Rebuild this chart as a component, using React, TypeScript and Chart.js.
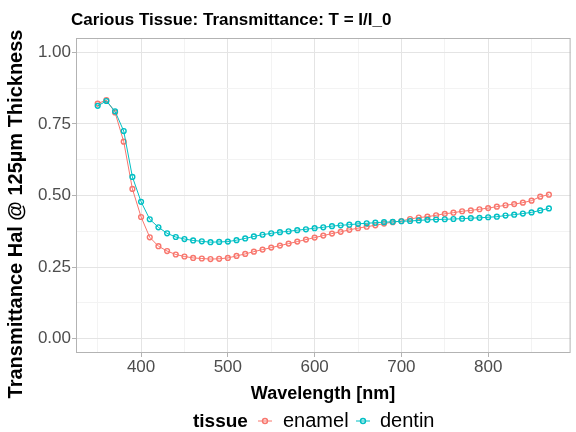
import React, { useEffect, useRef } from "react";
import { Chart, registerables } from "chart.js";

Chart.register(...registerables);

const wavelengths = [
  350, 360, 370, 380, 390, 400, 410, 420, 430, 440, 450, 460, 470, 480, 490, 500,
  510, 520, 530, 540, 550, 560, 570, 580, 590, 600, 610, 620, 630, 640, 650, 660,
  670, 680, 690, 700, 710, 720, 730, 740, 750, 760, 770, 780, 790, 800, 810, 820,
  830, 840, 850, 860, 870,
];

const enamel = [
  0.821, 0.833, 0.79, 0.688, 0.523, 0.425, 0.354, 0.323, 0.306, 0.294, 0.287, 0.282,
  0.28, 0.278, 0.279, 0.282, 0.289, 0.296, 0.304, 0.311, 0.318, 0.325, 0.332, 0.339,
  0.346, 0.353, 0.36, 0.367, 0.373, 0.38, 0.386, 0.391, 0.396, 0.402, 0.407, 0.411,
  0.418, 0.423, 0.426, 0.431, 0.436, 0.44, 0.445, 0.448, 0.452, 0.456, 0.461, 0.466,
  0.47, 0.475, 0.482, 0.496, 0.503,
];

const dentin = [
  0.813, 0.83, 0.794, 0.725, 0.565, 0.478, 0.417, 0.389, 0.368, 0.355, 0.348, 0.343,
  0.34, 0.337, 0.338, 0.339, 0.344, 0.35, 0.357, 0.363, 0.368, 0.372, 0.375, 0.379,
  0.382, 0.386, 0.389, 0.393, 0.396, 0.398, 0.401, 0.403, 0.405, 0.407, 0.408, 0.41,
  0.411, 0.413, 0.415, 0.416, 0.417, 0.418, 0.419, 0.421, 0.422, 0.424, 0.426, 0.43,
  0.433, 0.437, 0.441, 0.448, 0.455,
];

const xMajor = [400, 500, 600, 700, 800];
const xMinor = [350, 450, 550, 650, 750, 850];
const yMajor = [0, 0.25, 0.5, 0.75, 1];
const yMinor = [0.125, 0.375, 0.625, 0.875];

const seriesNames = ["enamel", "dentin"];
const seriesColors = ["#F8766D", "#00BFC4"];

const TITLE = "Carious Tissue: Transmittance: T = I/I_0";
const X_TITLE = "Wavelength [nm]";
const Y_TITLE = "Transmittance Hal @ 125\u00b5m Thickness";
const LEGEND_TITLE = "tissue";

const FONT = '"Liberation Sans", Arial, Helvetica, sans-serif';

const isMajor = (list: number[], v: number) => list.some((m) => Math.abs(m - v) < 1e-9);

const decorPlugin = {
  id: "decor",
  afterDraw(chart: any) {
    const { ctx, chartArea: a } = chart;
    ctx.save();
    // panel border
    ctx.strokeStyle = "#B3B3B3";
    ctx.lineWidth = 1;
    ctx.strokeRect(a.left + 0.5, a.top + 0.5, a.right - a.left - 1, a.bottom - a.top - 1);

    ctx.fillStyle = "#000000";
    // title
    ctx.font = `bold 17px ${FONT}`;
    ctx.textAlign = "left";
    ctx.textBaseline = "alphabetic";
    ctx.fillText(TITLE, 71, 25);

    // x title
    ctx.font = `bold 18px ${FONT}`;
    ctx.textAlign = "center";
    ctx.fillText(X_TITLE, 323, 399);

    // y title
    ctx.save();
    ctx.translate(22, 214);
    ctx.rotate(-Math.PI / 2);
    ctx.font = `bold 20px ${FONT}`;
    ctx.textAlign = "center";
    ctx.fillText(Y_TITLE, 0, 0);
    ctx.restore();

    // legend
    ctx.textAlign = "left";
    ctx.font = `bold 19px ${FONT}`;
    ctx.fillText(LEGEND_TITLE, 193, 427);
    const symX = [265, 363];
    const labX = [283, 380];
    for (let i = 0; i < seriesNames.length; i++) {
      const cx = symX[i];
      const cy = 421;
      ctx.strokeStyle = seriesColors[i];
      ctx.lineWidth = 1;
      ctx.beginPath();
      ctx.moveTo(cx - 7, cy);
      ctx.lineTo(cx + 7, cy);
      ctx.stroke();
      ctx.lineWidth = 1.4;
      ctx.beginPath();
      ctx.arc(cx, cy, 2.5, 0, Math.PI * 2);
      ctx.stroke();
      ctx.fillStyle = "#000000";
      ctx.font = `20px ${FONT}`;
      ctx.fillText(seriesNames[i], labX[i], 427);
    }
    ctx.restore();
  },
};

export default function App() {
  const canvasRef = useRef<HTMLCanvasElement | null>(null);

  useEffect(() => {
    if (!canvasRef.current) return;
    const series = [enamel, dentin];
    const chart = new Chart(canvasRef.current, {
      type: "line",
      data: {
        datasets: series.map((vals, i) => ({
          label: seriesNames[i],
          data: wavelengths.map((x, j) => ({ x, y: vals[j] })),
          borderColor: seriesColors[i],
          borderWidth: 1,
          pointRadius: 2.4,
          pointBorderWidth: 1.4,
          pointBorderColor: seriesColors[i],
          pointBackgroundColor: "rgba(0,0,0,0)",
          tension: 0,
          order: i === 0 ? 1 : 0,
        })),
      },
      options: {
        responsive: false,
        animation: false,
        events: [],
        layout: { padding: { top: 38, right: 0, bottom: 0, left: 0 } },
        plugins: {
          legend: { display: false },
          title: { display: false },
          tooltip: { enabled: false },
        },
        scales: {
          x: {
            type: "linear",
            min: 325,
            max: 895,
            afterBuildTicks: (s: any) => {
              s.ticks = [...xMinor, ...xMajor].sort((p, q) => p - q).map((v) => ({ value: v }));
            },
            afterFit: (s: any) => {
              s.height = 79;
            },
            ticks: {
              autoSkip: false,
              maxRotation: 0,
              color: "#4D4D4D",
              padding: 0,
              font: { size: 17, family: FONT },
              callback: (v: any) => (isMajor(xMajor, Number(v)) ? String(v) : ""),
            },
            grid: {
              color: (c: any) => (c.tick && isMajor(xMajor, c.tick.value) ? "#E4E4E4" : "#F3F3F3"),
              lineWidth: 1,
              tickLength: 4,
              tickColor: (c: any) =>
                c.tick && isMajor(xMajor, c.tick.value) ? "#B3B3B3" : "rgba(0,0,0,0)",
            },
            border: { display: false },
          },
          y: {
            type: "linear",
            min: -0.05,
            max: 1.05,
            afterBuildTicks: (s: any) => {
              s.ticks = [...yMinor, ...yMajor].sort((p, q) => p - q).map((v) => ({ value: v }));
            },
            afterFit: (s: any) => {
              s.width = 76;
            },
            ticks: {
              autoSkip: false,
              color: "#4D4D4D",
              padding: 1,
              font: { size: 17, family: FONT },
              callback: (v: any) => (isMajor(yMajor, Number(v)) ? Number(v).toFixed(2) : ""),
            },
            grid: {
              color: (c: any) => (c.tick && isMajor(yMajor, c.tick.value) ? "#E4E4E4" : "#F3F3F3"),
              lineWidth: 1,
              tickLength: 4,
              tickColor: (c: any) =>
                c.tick && isMajor(yMajor, c.tick.value) ? "#B3B3B3" : "rgba(0,0,0,0)",
            },
            border: { display: false },
          },
        },
      },
      plugins: [decorPlugin],
    } as any);
    return () => chart.destroy();
  }, []);

  return (
    <div style={{ position: "absolute", left: 0, top: 0, width: 576, height: 432, background: "#FFFFFF" }}>
      <canvas ref={canvasRef} width={576} height={432} style={{ display: "block" }} />
    </div>
  );
}
